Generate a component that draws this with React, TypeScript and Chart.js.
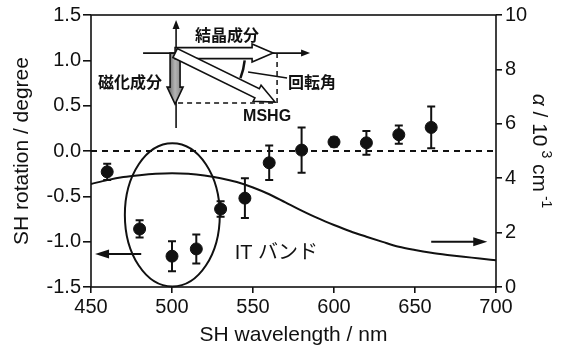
import React, { useEffect, useRef } from "react";
import { Chart, registerables } from "chart.js";

Chart.register(...registerables);

// SH rotation data (left axis)
const wavelengths = [460, 480, 500, 515, 530, 545, 560, 580, 600, 620, 640, 660];
const rotation = [-0.23, -0.86, -1.16, -1.08, -0.64, -0.52, -0.13, 0.01, 0.1, 0.09, 0.18, 0.26];
const rotationErr = [0.09, 0.095, 0.165, 0.16, 0.085, 0.22, 0.19, 0.25, 0.05, 0.13, 0.1, 0.23];

// absorption coefficient curve (right axis)
const curveWavelengths = [450, 460, 470, 480, 490, 500, 510, 520, 530, 540, 550, 560, 570, 580, 590, 600, 610, 620, 630, 640, 650, 660, 670, 680, 690, 700];
const alpha = [3.79, 3.93, 4.04, 4.11, 4.16, 4.18, 4.16, 4.1, 4.0, 3.86, 3.66, 3.41, 3.11, 2.81, 2.53, 2.28, 2.05, 1.85, 1.66, 1.48, 1.36, 1.26, 1.18, 1.11, 1.05, 0.98];

const zeroLine = [450, 700];

const FONT = '"Liberation Sans", Arial, sans-serif';
const CJK = '"Liberation Sans", "Noto Sans CJK JP", sans-serif';
const INK = "#111";

function arrowHead(ctx: CanvasRenderingContext2D, x1: number, y1: number, x2: number, y2: number, len: number, half: number) {
  const dx = x2 - x1, dy = y2 - y1;
  const d = Math.hypot(dx, dy);
  const ux = dx / d, uy = dy / d;
  const nx = -uy, ny = ux;
  const bx = x2 - ux * len, by = y2 - uy * len;
  ctx.beginPath();
  ctx.moveTo(x2, y2);
  ctx.lineTo(bx + nx * half, by + ny * half);
  ctx.lineTo(bx - nx * half, by - ny * half);
  ctx.closePath();
  ctx.fill();
}

function lineArrow(ctx: CanvasRenderingContext2D, x1: number, y1: number, x2: number, y2: number, len: number, half: number, lw: number) {
  const dx = x2 - x1, dy = y2 - y1;
  const d = Math.hypot(dx, dy);
  ctx.lineWidth = lw;
  ctx.beginPath();
  ctx.moveTo(x1, y1);
  ctx.lineTo(x2 - (dx / d) * len * 0.8, y2 - (dy / d) * len * 0.8);
  ctx.stroke();
  arrowHead(ctx, x1, y1, x2, y2, len, half);
}

function blockArrow(ctx: CanvasRenderingContext2D, sx: number, sy: number, ex: number, ey: number, w: number, len: number, h: number, fill: string | CanvasGradient) {
  const dx = ex - sx, dy = ey - sy;
  const d = Math.hypot(dx, dy);
  const ux = dx / d, uy = dy / d;
  const nx = -uy, ny = ux;
  const hx = ex - ux * len, hy = ey - uy * len;
  ctx.beginPath();
  ctx.moveTo(sx + nx * w, sy + ny * w);
  ctx.lineTo(hx + nx * w, hy + ny * w);
  ctx.lineTo(hx + nx * h, hy + ny * h);
  ctx.lineTo(ex, ey);
  ctx.lineTo(hx - nx * h, hy - ny * h);
  ctx.lineTo(hx - nx * w, hy - ny * w);
  ctx.lineTo(sx - nx * w, sy - ny * w);
  ctx.closePath();
  ctx.fillStyle = fill;
  ctx.fill();
  ctx.lineWidth = 1.6;
  ctx.strokeStyle = INK;
  ctx.stroke();
}

const errorBarPlugin = {
  id: "errorBars",
  beforeDatasetsDraw(chart: any) {
    const { ctx } = chart;
    const x = chart.scales.x, y = chart.scales.y;
    ctx.save();
    ctx.strokeStyle = INK;
    ctx.lineWidth = 2;
    wavelengths.forEach((w, i) => {
      const px = x.getPixelForValue(w);
      const t = y.getPixelForValue(rotation[i] + rotationErr[i]);
      const b = y.getPixelForValue(rotation[i] - rotationErr[i]);
      ctx.beginPath();
      ctx.moveTo(px, t);
      ctx.lineTo(px, b);
      ctx.moveTo(px - 4, t);
      ctx.lineTo(px + 4, t);
      ctx.moveTo(px - 4, b);
      ctx.lineTo(px + 4, b);
      ctx.stroke();
    });
    ctx.restore();
  },
};

const decorPlugin = {
  id: "decor",
  afterDraw(chart: any) {
    const { ctx, chartArea: a } = chart;
    const x = chart.scales.x, y = chart.scales.y;
    ctx.save();
    // frame
    ctx.strokeStyle = INK;
    ctx.lineWidth = 1.6;
    ctx.strokeRect(a.left, a.top, a.right - a.left, a.bottom - a.top);

    // ellipse around IT band
    const cx = x.getPixelForValue(500.2);
    const cy = y.getPixelForValue(-0.705);
    const rx = x.getPixelForValue(500.2 + 29.3) - cx;
    const ry = y.getPixelForValue(-0.705 - 0.79) - cy;
    ctx.lineWidth = 2;
    ctx.beginPath();
    ctx.ellipse(cx, cy, rx, ry, 0, 0, Math.PI * 2);
    ctx.stroke();

    // axis pointer arrows
    ctx.fillStyle = INK;
    lineArrow(ctx, x.getPixelForValue(481), y.getPixelForValue(-1.136), x.getPixelForValue(452.5), y.getPixelForValue(-1.136), 14, 4.5, 2);
    lineArrow(ctx, x.getPixelForValue(660), y.getPixelForValue(-1.0), x.getPixelForValue(694.6), y.getPixelForValue(-1.0), 14, 4.5, 2);

    // IT band label
    ctx.fillStyle = INK;
    ctx.font = `20px ${CJK}`;
    ctx.textBaseline = "middle";
    ctx.textAlign = "left";
    ctx.fillText("IT バンド", x.getPixelForValue(538.7), y.getPixelForValue(-1.125));

    // inset diagram
    const ox = x.getPixelForValue(501.9);
    const oy = y.getPixelForValue(1.08);
    ctx.strokeStyle = INK;
    ctx.fillStyle = INK;
    // axes
    lineArrow(ctx, ox + 1, oy + 75, ox + 1, oy - 33, 9, 3.5, 1.6);
    lineArrow(ctx, ox - 32, oy, ox + 135, oy, 9, 3.5, 1.6);
    // dashed projections
    ctx.setLineDash([5, 4]);
    ctx.lineWidth = 1.5;
    ctx.beginPath();
    ctx.moveTo(ox + 102, oy);
    ctx.lineTo(ox + 102, oy + 50);
    ctx.lineTo(ox + 1, oy + 50);
    ctx.stroke();
    ctx.setLineDash([]);
    // magnetization component (gray)
    const g = ctx.createLinearGradient(ox - 6, 0, ox + 6, 0);
    g.addColorStop(0, "#6e6e6e");
    g.addColorStop(0.5, "#b5b5b5");
    g.addColorStop(1, "#8a8a8a");
    blockArrow(ctx, ox, oy, ox, oy + 51, 5, 17, 8, g);
    // crystal component
    blockArrow(ctx, ox, oy, ox + 98, oy, 5.5, 21, 9, "#fff");
    // MSHG
    blockArrow(ctx, ox, oy, ox + 100, oy + 49, 5, 20, 9, "#fff");
    // rotation angle arc
    ctx.lineWidth = 2.5;
    ctx.beginPath();
    ctx.arc(ox, oy, 70, (6 * Math.PI) / 180, (21 * Math.PI) / 180);
    ctx.stroke();
    // leader line
    ctx.lineWidth = 1.6;
    ctx.beginPath();
    ctx.moveTo(ox + 73, oy + 19);
    ctx.lineTo(ox + 112, oy + 25);
    ctx.stroke();
    // labels
    ctx.fillStyle = INK;
    ctx.font = `bold 16px "Noto Sans CJK JP", sans-serif`;
    ctx.textBaseline = "middle";
    ctx.textAlign = "center";
    ctx.fillText("結晶成分", ox + 52, oy - 18);
    ctx.textAlign = "right";
    ctx.fillText("磁化成分", ox - 13, oy + 29);
    ctx.textAlign = "left";
    ctx.fillText("回転角", ox + 113, oy + 29);
    ctx.font = `bold 16px ${FONT}`;
    ctx.fillText("MSHG", ox + 68, oy + 64);

    // right axis title with superscripts
    const segs: [string, string, number][] = [
      ["α", `italic 21px ${FONT}`, 0],
      [" / 10", `21px ${FONT}`, 0],
      [" 3", `14px ${FONT}`, -9],
      [" cm", `21px ${FONT}`, 0],
      [" -1", `14px ${FONT}`, -9],
    ];
    let total = 0;
    const widths = segs.map(([t, f]) => {
      ctx.font = f;
      const w = ctx.measureText(t).width;
      total += w;
      return w;
    });
    ctx.translate(533, (a.top + a.bottom) / 2);
    ctx.rotate(Math.PI / 2);
    ctx.textAlign = "left";
    ctx.textBaseline = "alphabetic";
    let cur = -total / 2;
    segs.forEach(([t, f, dy], i) => {
      ctx.font = f;
      ctx.fillText(t, cur, dy);
      cur += widths[i];
    });
    ctx.restore();
  },
};

export default function App() {
  const ref = useRef<HTMLCanvasElement | null>(null);
  useEffect(() => {
    if (!ref.current) return;
    const tickFont = { family: FONT, size: 20 };
    const chart = new Chart(ref.current, {
      type: "scatter",
      data: {
        datasets: [
          {
            type: "line",
            data: zeroLine.map((w) => ({ x: w, y: 0 })),
            yAxisID: "y",
            borderColor: INK,
            borderWidth: 1.8,
            borderDash: [6, 5],
            pointRadius: 0,
          },
          {
            type: "line",
            data: curveWavelengths.map((w, i) => ({ x: w, y: alpha[i] })),
            yAxisID: "y2",
            borderColor: INK,
            borderWidth: 2,
            pointRadius: 0,
            tension: 0.4,
            cubicInterpolationMode: "monotone",
          },
          {
            type: "scatter",
            data: wavelengths.map((w, i) => ({ x: w, y: rotation[i] })),
            yAxisID: "y",
            backgroundColor: INK,
            borderColor: INK,
            pointRadius: 6,
          },
        ],
      } as any,
      options: {
        animation: false,
        responsive: false,
        layout: { padding: { top: 15, left: 0, right: 0, bottom: 0 } },
        plugins: { legend: { display: false }, tooltip: { enabled: false } },
        scales: {
          x: {
            type: "linear",
            min: 450,
            max: 700,
            ticks: { stepSize: 50, font: tickFont, color: INK, padding: 2 },
            grid: { drawOnChartArea: false, tickLength: 6, color: INK, lineWidth: 1.6 },
            border: { display: false },
            title: { display: true, text: "SH wavelength / nm", font: { family: FONT, size: 21 }, color: INK, padding: { top: 0, bottom: 6 } },
            afterFit: (s: any) => { s.height = 67; },
          },
          y: {
            type: "linear",
            position: "left",
            min: -1.5,
            max: 1.5,
            ticks: { stepSize: 0.5, font: tickFont, color: INK, padding: 2, callback: (v: any) => Number(v).toFixed(1) },
            grid: { drawOnChartArea: false, tickLength: 8, color: INK, lineWidth: 1.6 },
            border: { display: false },
            title: { display: true, text: "SH rotation / degree", font: { family: FONT, size: 21 }, color: INK, padding: { top: 10, bottom: 0 } },
            afterFit: (s: any) => { s.width = 91; },
          },
          y2: {
            type: "linear",
            position: "right",
            min: 0,
            max: 10,
            ticks: { stepSize: 2, font: tickFont, color: INK, padding: 3 },
            grid: { drawOnChartArea: false, tickLength: 6, color: INK, lineWidth: 1.6 },
            border: { display: false },
            afterFit: (s: any) => { s.width = 75; },
          },
        },
      } as any,
      plugins: [errorBarPlugin, decorPlugin],
    });
    return () => chart.destroy();
  }, []);
  return (
    <div style={{ position: "fixed", left: 0, top: 0, width: 571, height: 354, background: "#fff" }}>
      <canvas ref={ref} width={571} height={354} />
    </div>
  );
}
